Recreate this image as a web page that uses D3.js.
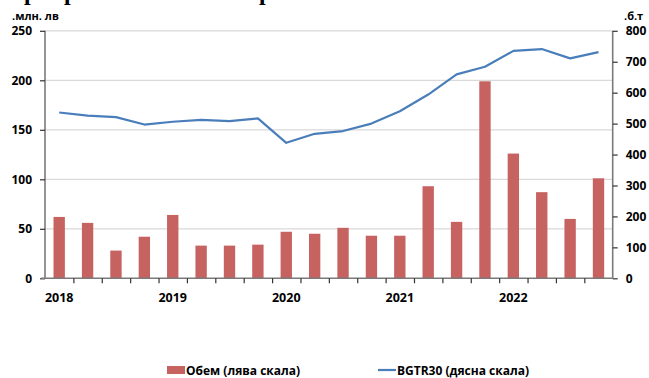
<!DOCTYPE html>
<html>
<head>
<meta charset="utf-8">
<script src="https://cdn.jsdelivr.net/npm/d3@7"></script>
<style>
  html, body { margin: 0; padding: 0; background: #fff; }
  svg { display: block; }
  text { font-family: "Open Sans", "Noto Sans", sans-serif; }
</style>
</head>
<body>
<svg id="chart" width="649" height="378"></svg>
<script>
// ---- data ----
const categories = ["2018 Q1","2018 Q2","2018 Q3","2018 Q4",
                    "2019 Q1","2019 Q2","2019 Q3","2019 Q4",
                    "2020 Q1","2020 Q2","2020 Q3","2020 Q4",
                    "2021 Q1","2021 Q2","2021 Q3","2021 Q4",
                    "2022 Q1","2022 Q2","2022 Q3","2022 Q4"];
const yearLabels = ["2018","","","","2019","","","","2020","","","","2021","","","","2022","","",""];
const volume = [62, 56, 28, 42, 64, 33, 33, 34, 47, 45, 51, 43, 43, 93, 57, 199, 126, 87, 60, 101];
const bgtr30 = [536, 526, 521, 497, 506, 512, 508, 517, 438, 467, 476, 500, 540, 594, 659, 684, 735, 741, 711, 731];
const leftTicks = [0, 50, 100, 150, 200, 250];
const rightTicks = [0, 100, 200, 300, 400, 500, 600, 700, 800];
const leftUnit = ".млн. лв";
const rightUnit = ".б.т";
const seriesNames = ["Обем (лява скала)", "BGTR30 (дясна скала)"];

// ---- layout ----
const svg = d3.select("#chart");
const X0 = 45, X1 = 612.7, Y0 = 278.3, Y1 = 30.8;
const axisColor = "#7a7a7a";

const x = d3.scaleBand().domain(categories).range([X0, X1]).paddingInner(0.6).paddingOuter(0.3);
const yL = d3.scaleLinear().domain([0, 250]).range([Y0, Y1]);
const yR = d3.scaleLinear().domain([0, 800]).range([Y0, Y1]);

// clipped title (only descenders visible at top edge, as in the reference)
const title = svg.append("text").attr("y", 0)
  .style("font-family", "'Liberation Serif', serif").style("font-weight", "bold")
  .style("font-size", "24px").attr("fill", "#000");
[30, 70, 265].forEach(px => title.append("tspan").attr("x", px - 6).text("р"));

// gridlines
svg.append("g").selectAll("line").data(leftTicks.filter(d => d > 0)).join("line")
  .attr("x1", X0).attr("x2", X1)
  .attr("y1", d => yL(d)).attr("y2", d => yL(d))
  .attr("stroke", "#d9d9d9").attr("stroke-width", 1.2);

// bars
svg.append("g").selectAll("rect").data(volume).join("rect")
  .attr("x", (d, i) => x(categories[i]))
  .attr("width", x.bandwidth())
  .attr("y", d => yL(d))
  .attr("height", d => Y0 - yL(d))
  .attr("fill", "#c6625f");

// line
const line = d3.line()
  .x((d, i) => x(categories[i]) + x.bandwidth() / 2)
  .y(d => yR(d));
svg.append("path").datum(bgtr30)
  .attr("d", line).attr("fill", "none")
  .attr("stroke", "#4a7ebb").attr("stroke-width", 2.2)
  .attr("stroke-linejoin", "round");

// left axis
const gL = svg.append("g").attr("transform", `translate(${X0},0)`)
  .call(d3.axisLeft(yL).tickValues(leftTicks).tickSize(5).tickPadding(8));
// right axis
const gR = svg.append("g").attr("transform", `translate(${X1},0)`)
  .call(d3.axisRight(yR).tickValues(rightTicks).tickSize(5).tickPadding(8));
[gL, gR].forEach(g => {
  g.select(".domain").attr("stroke", axisColor).attr("stroke-width", 1.6)
    .attr("d", `M0,${Y0}V${Y1}`);
  g.selectAll(".tick line").attr("stroke", "#333").attr("stroke-width", 1.2);
  g.selectAll(".tick text").attr("fill", "#000")
    .style("font-family", "'Open Sans', sans-serif")
    .style("font-weight", "bold").style("font-size", "12px");
});

// bottom axis
const xb = d3.scaleLinear().domain([0, categories.length]).range([X0, X1]);
const gB = svg.append("g").attr("transform", `translate(0,${Y0})`)
  .call(d3.axisBottom(xb).tickValues(d3.range(1, categories.length)).tickSize(5).tickFormat(""));
gB.select(".domain").attr("stroke", axisColor).attr("stroke-width", 1.6)
  .attr("d", `M${X0 - 4},0H${X1}`);
gB.selectAll(".tick line").attr("stroke", "#333").attr("stroke-width", 1.2);

// year labels
svg.append("g").selectAll("text").data(categories.filter((c, i) => yearLabels[i]))
  .join("text")
  .attr("x", d => x(d) + x.bandwidth() / 2)
  .attr("y", 301.5)
  .attr("text-anchor", "middle")
  .style("font-weight", "bold").style("font-size", "12.5px")
  .text(d => yearLabels[categories.indexOf(d)]);

// units
svg.append("text").attr("x", 12).attr("y", 20)
  .style("font-weight", "bold").style("font-size", "11px").text(leftUnit);
svg.append("text").attr("x", 624).attr("y", 20)
  .style("font-weight", "bold").style("font-size", "11px").text(rightUnit);

// legend
svg.append("rect").attr("x", 167).attr("y", 366).attr("width", 18).attr("height", 8).attr("fill", "#c6625f");
svg.append("text").attr("x", 186).attr("y", 374.5)
  .style("font-weight", "bold").style("font-size", "12px").text(seriesNames[0]);
svg.append("line").attr("x1", 378).attr("x2", 396).attr("y1", 370).attr("y2", 370)
  .attr("stroke", "#4a7ebb").attr("stroke-width", 2.2);
svg.append("text").attr("x", 397).attr("y", 374.5)
  .style("font-weight", "bold").style("font-size", "12px").text(seriesNames[1]);
</script>
</body>
</html>
